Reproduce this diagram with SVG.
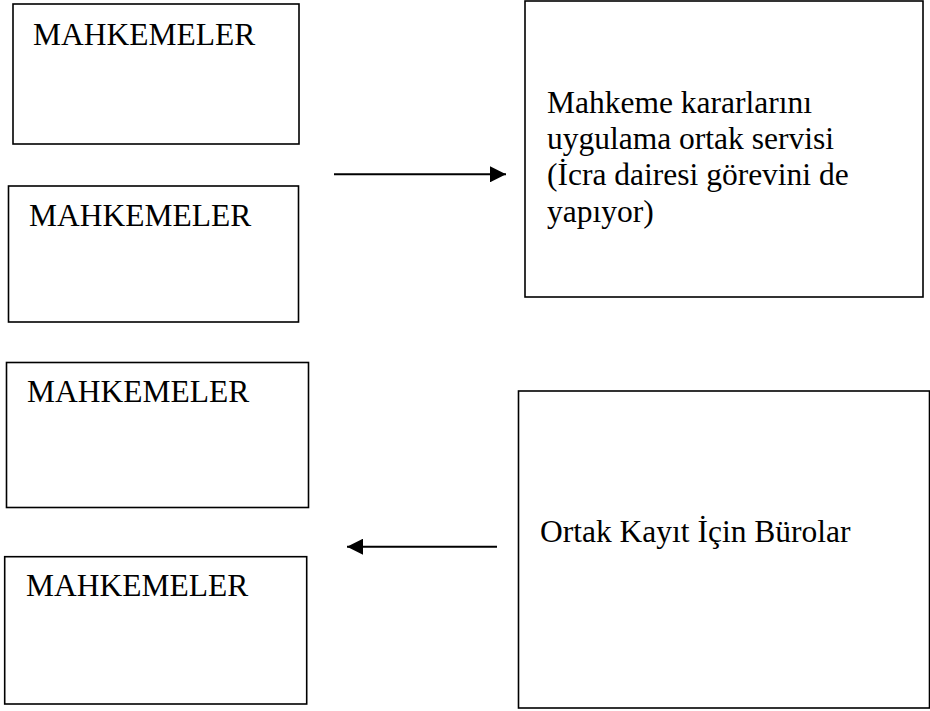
<svg xmlns="http://www.w3.org/2000/svg" width="930" height="711" viewBox="0 0 930 711">
<style>
.box{fill:#fff;stroke:#000;stroke-width:1.6}
.t{font-family:"Liberation Serif","Times New Roman",serif;font-size:31.5px;fill:#000}
.c{stroke:#000;stroke-width:2;fill:none}
</style>
<defs>
<marker id="ah" viewBox="0 0 16 16" refX="16" refY="8" markerWidth="16" markerHeight="16" markerUnits="userSpaceOnUse" orient="auto">
<path d="M0,0 L16,8 L0,16 Z" fill="#000"/>
</marker>
</defs>
<rect width="930" height="711" fill="#fff"/>
<g id="m1"><rect class="box" x="13" y="4" width="286" height="140"/><text class="t" x="33" y="45">MAHKEMELER</text></g>
<g id="m2"><rect class="box" x="8.5" y="186" width="290" height="136"/><text class="t" x="29" y="226">MAHKEMELER</text></g>
<g id="m3"><rect class="box" x="6.5" y="362.5" width="302" height="145"/><text class="t" x="27" y="402">MAHKEMELER</text></g>
<g id="m4"><rect class="box" x="4.7" y="556.7" width="302" height="147.3"/><text class="t" x="26" y="596">MAHKEMELER</text></g>
<g id="servis"><rect class="box" x="525" y="1" width="398" height="296"/>
<text class="t" x="547" y="113">Mahkeme kararlarını</text>
<text class="t" x="547" y="149">uygulama ortak servisi</text>
<text class="t" x="547" y="185">(İcra dairesi görevini de</text>
<text class="t" x="547" y="221.5">yapıyor)</text></g>
<g id="buro"><rect class="box" x="518.5" y="391" width="411" height="317"/><text class="t" x="540" y="542">Ortak Kayıt İçin Bürolar</text></g>
<g id="connectors">
<line class="c" x1="334" y1="174.3" x2="506" y2="174.3" marker-end="url(#ah)"/>
<line class="c" x1="497" y1="546.7" x2="347" y2="546.7" marker-end="url(#ah)"/>
</g>
</svg>
